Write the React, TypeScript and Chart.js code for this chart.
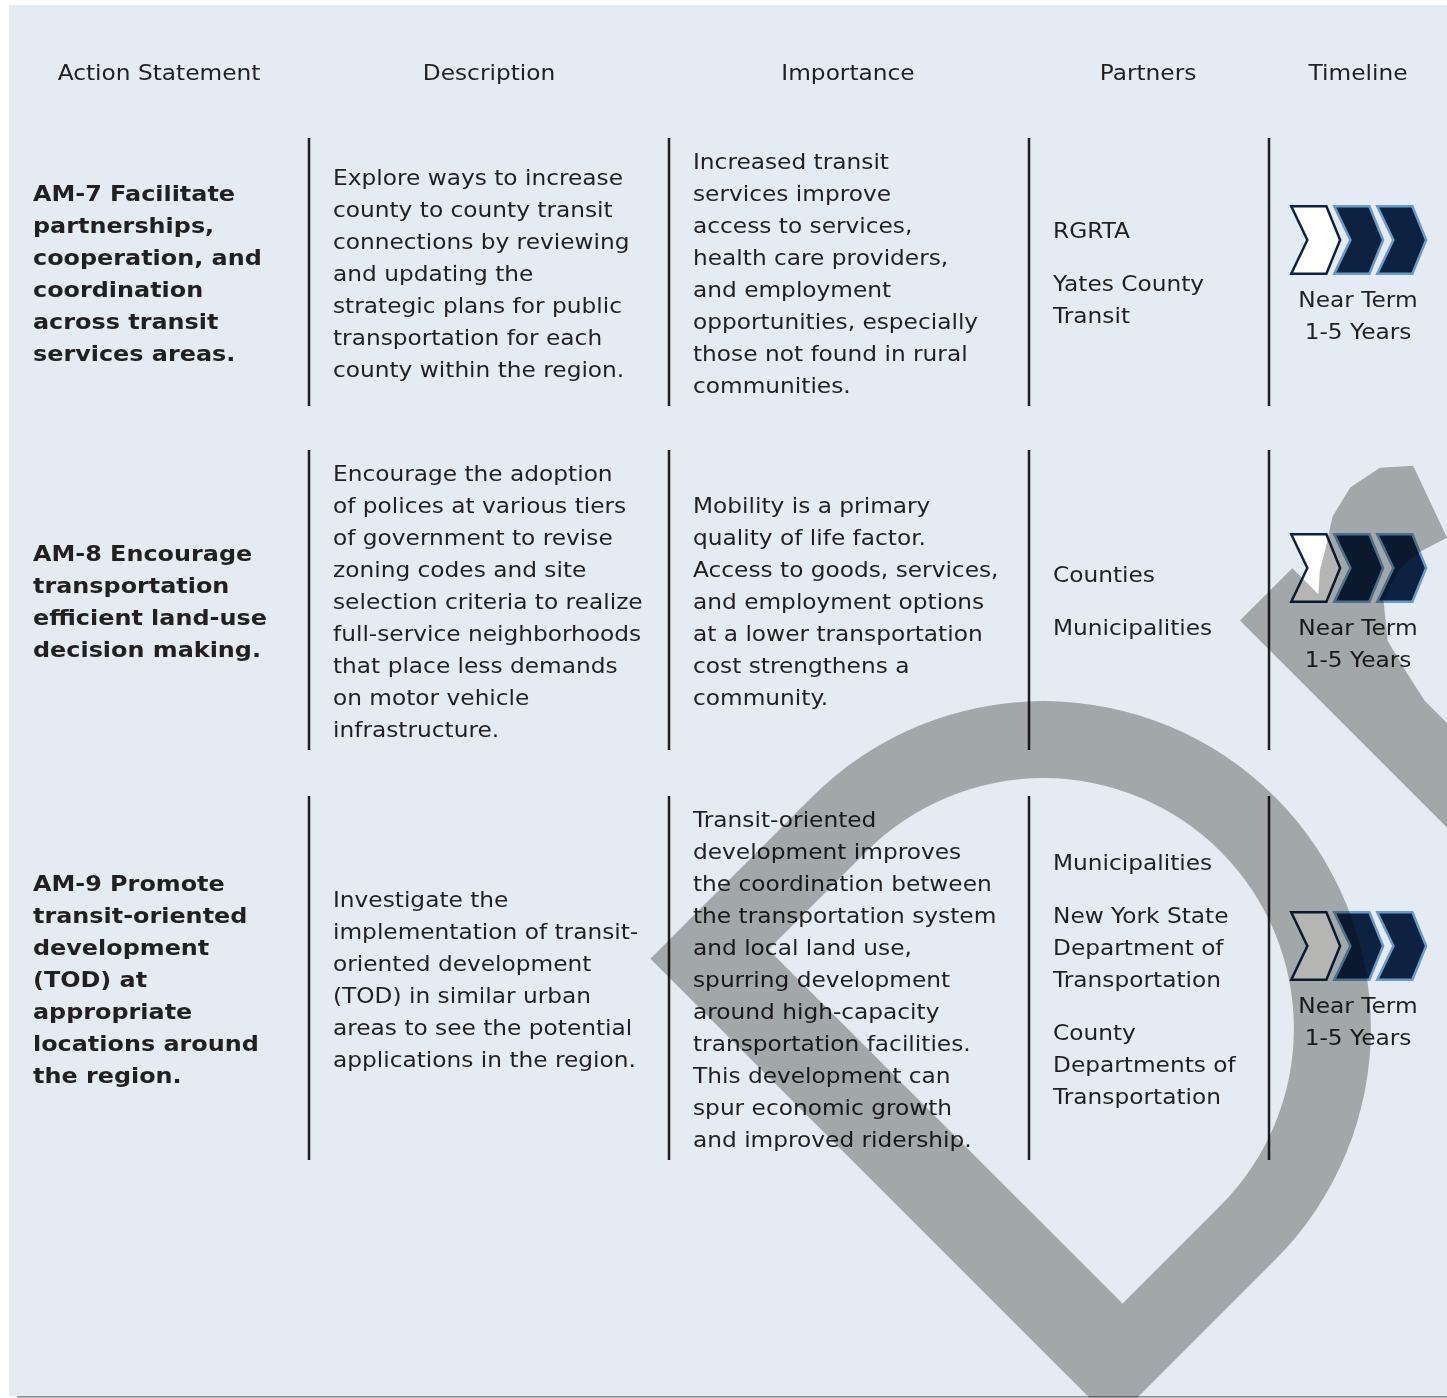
import React, { useEffect, useRef } from "react";
import { Chart, registerables } from "chart.js";

Chart.register(...registerables);

// ---------------- DATA ----------------
const headers = ["Action Statement", "Description", "Importance", "Partners", "Timeline"];

const actionStatements: string[][] = [
  ["AM-7 Facilitate", "partnerships,", "cooperation, and", "coordination", "across transit", "services areas."],
  ["AM-8 Encourage", "transportation", "efficient land-use", "decision making."],
  ["AM-9 Promote", "transit-oriented", "development", "(TOD) at", "appropriate", "locations around", "the region."],
];

const descriptions: string[][] = [
  [
    "Explore ways to increase",
    "county to county transit",
    "connections by reviewing",
    "and updating the",
    "strategic plans for public",
    "transportation for each",
    "county within the region.",
  ],
  [
    "Encourage the adoption",
    "of polices at various tiers",
    "of government to revise",
    "zoning codes and site",
    "selection criteria to realize",
    "full-service neighborhoods",
    "that place less demands",
    "on motor vehicle",
    "infrastructure.",
  ],
  [
    "Investigate the",
    "implementation of transit-",
    "oriented development",
    "(TOD) in similar urban",
    "areas to see the potential",
    "applications in the region.",
  ],
];

const importance: string[][] = [
  [
    "Increased transit",
    "services improve",
    "access to services,",
    "health care providers,",
    "and employment",
    "opportunities, especially",
    "those not found in rural",
    "communities.",
  ],
  [
    "Mobility is a primary",
    "quality of life factor.",
    "Access to goods, services,",
    "and employment options",
    "at a lower transportation",
    "cost strengthens a",
    "community.",
  ],
  [
    "Transit-oriented",
    "development improves",
    "the coordination between",
    "the transportation system",
    "and local land use,",
    "spurring development",
    "around high-capacity",
    "transportation facilities.",
    "This development can",
    "spur economic growth",
    "and improved ridership.",
  ],
];

const partners: string[][][] = [
  [["RGRTA"], ["Yates County", "Transit"]],
  [["Counties"], ["Municipalities"]],
  [["Municipalities"], ["New York State", "Department of", "Transportation"], ["County", "Departments of", "Transportation"]],
];

const timelineTerms = ["Near Term", "Near Term", "Near Term"];
const timelineYears = ["1-5 Years", "1-5 Years", "1-5 Years"];
const timelineStage = [1, 1, 1]; // highlighted (first) chevron of three

// ---------------- LAYOUT ----------------
const PAGE_W = 1447;
const PAGE_H = 1398;
const PANEL = { x0: 9, y0: 5, x1: 1447, y1: 1396 };
const HEADER_CX = [159, 489, 848, 1148, 1358];
const HEADER_BASE = 79.5;
const TEXT_X = [33, 333, 693, 1053];
const DIVIDER_X = [309, 669, 1029, 1269];
const ROW_SPANS = [
  [138, 406],
  [450, 750],
  [796, 1160],
];
const TIMELINE_CX = 1358;
const LINE_H = 32;
const GROUP_GAP = 21;
const BASE_OFF = 6.5;

const FONT_FAMILY = '"DejaVu Sans", "Liberation Sans", sans-serif';
const FONT_SIZE = 22;
const TEXT_COLOR = "#231f20";
const PANEL_COLOR = "#e4ebf3";
const NAVY = "#0d2240";
const LIGHT_BLUE = "#6a9bc8";

// Watermark ("Dr" of a rotated DRAFT) in letter coordinates (U right, H up)
const WM_ORIGIN = { x: 1267.5, y: 1267.5 };
const WM_D = { spine: -218, innerSpine: -128, cu: 10.6, ch: 327.4, outerR: 327.4, innerR: 250.4 };
const WM_R: [number, number][] = [
  [438, -60], [438, 477], [512, 477], [512, 440], [530, 456], [549, 467], [577, 485],
  [610, 493], [645, 486], [670, 464], [643, 389], [615, 398], [589, 401], [554, 390],
  [528, 358], [519, 322], [512, 290], [512, -60],
];

const tablePlugin = {
  id: "tablePlugin",
  beforeDraw(chart: any) {
    const ctx: CanvasRenderingContext2D = chart.ctx;
    const X = (v: number) => chart.scales.x.getPixelForValue(v);
    const Y = (v: number) => chart.scales.y.getPixelForValue(v);
    ctx.save();
    ctx.fillStyle = "#ffffff";
    ctx.fillRect(X(0), Y(0), X(PAGE_W) - X(0), Y(PAGE_H) - Y(0));
    ctx.fillStyle = PANEL_COLOR;
    ctx.fillRect(X(PANEL.x0), Y(PANEL.y0), X(PANEL.x1) - X(PANEL.x0), Y(PANEL.y1) - Y(PANEL.y0));
    ctx.fillStyle = "#8a8e92";
    ctx.fillRect(X(PANEL.x0 + 8), Y(PANEL.y1), X(PANEL.x1) - X(PANEL.x0 + 8), 1.6);
    ctx.restore();
  },
  afterDraw(chart: any) {
    const ctx: CanvasRenderingContext2D = chart.ctx;
    const X = (v: number) => chart.scales.x.getPixelForValue(v);
    const Y = (v: number) => chart.scales.y.getPixelForValue(v);

    const regFont = `${FONT_SIZE}px ${FONT_FAMILY}`;
    const boldFont = `bold ${FONT_SIZE}px ${FONT_FAMILY}`;
    ctx.save();
    ctx.font = regFont;
    const sxReg = 290 / ctx.measureText("Explore ways to increase").width;
    ctx.font = boldFont;
    const sxBold = 202 / ctx.measureText("AM-7 Facilitate").width;
    ctx.restore();

    const text = (s: string, x: number, y: number, bold: boolean, align: CanvasTextAlign) => {
      ctx.save();
      ctx.font = bold ? boldFont : regFont;
      ctx.fillStyle = TEXT_COLOR;
      ctx.textAlign = align;
      ctx.textBaseline = "alphabetic";
      ctx.translate(X(x), Y(y));
      ctx.scale(bold ? sxBold : sxReg, 1);
      ctx.fillText(s, 0, 0);
      ctx.restore();
    };

    // headers
    headers.forEach((h, i) => text(h, HEADER_CX[i], HEADER_BASE, false, "center"));

    ROW_SPANS.forEach(([top, bottom], r) => {
      const mid = (top + bottom) / 2 + 2;
      // dividers
      ctx.save();
      ctx.strokeStyle = TEXT_COLOR;
      ctx.lineWidth = 2.5;
      DIVIDER_X.forEach((dx) => {
        ctx.beginPath();
        ctx.moveTo(X(dx), Y(top));
        ctx.lineTo(X(dx), Y(bottom));
        ctx.stroke();
      });
      ctx.restore();

      const block = (lines: string[], x: number, bold: boolean) => {
        const first = mid - ((lines.length - 1) * LINE_H) / 2 + BASE_OFF;
        lines.forEach((l, k) => text(l, x, first + k * LINE_H, bold, "left"));
      };
      block(actionStatements[r], TEXT_X[0], true);
      block(descriptions[r], TEXT_X[1], false);
      block(importance[r], TEXT_X[2], false);

      // partners (grouped)
      const groups = partners[r];
      const nLines = groups.reduce((a, g) => a + g.length, 0);
      const span = (nLines - 1) * LINE_H + (groups.length - 1) * GROUP_GAP;
      let yb = mid - span / 2 + BASE_OFF;
      groups.forEach((g) => {
        g.forEach((l) => {
          text(l, TEXT_X[3], yb, false, "left");
          yb += LINE_H;
        });
        yb += GROUP_GAP;
      });

      // timeline chevrons
      const cTop = mid - 69;
      const offs = [-68, -25, 18];
      offs.forEach((o, i) => {
        const x0 = TIMELINE_CX + o;
        const inset = 1.25;
        const pts: [number, number][] = [
          [x0 + inset, cTop + inset],
          [x0 + 37 - inset * 0.5, cTop + inset],
          [x0 + 52 - inset * 1.5, cTop + 35],
          [x0 + 37 - inset * 0.5, cTop + 70 - inset],
          [x0 + inset, cTop + 70 - inset],
          [x0 + 18 - inset * 0.5, cTop + 35],
        ];
        ctx.save();
        ctx.beginPath();
        pts.forEach(([px, py], j) => (j === 0 ? ctx.moveTo(X(px), Y(py)) : ctx.lineTo(X(px), Y(py))));
        ctx.closePath();
        const highlighted = i < timelineStage[r];
        ctx.fillStyle = highlighted ? "#ffffff" : NAVY;
        ctx.fill();
        ctx.lineJoin = "miter";
        ctx.lineWidth = 2.5;
        ctx.strokeStyle = highlighted ? NAVY : LIGHT_BLUE;
        ctx.stroke();
        ctx.restore();
      });
      text(timelineTerms[r], TIMELINE_CX, mid + 33, false, "center");
      text(timelineYears[r], TIMELINE_CX, mid + 65, false, "center");
    });

    // watermark (multiply)
    ctx.save();
    ctx.beginPath();
    ctx.rect(X(PANEL.x0), Y(PANEL.y0), X(PANEL.x1) - X(PANEL.x0), Y(PANEL.y1 + 1.6) - Y(PANEL.y0));
    ctx.clip();
    ctx.globalCompositeOperation = "multiply";
    ctx.fillStyle = "rgb(181,182,179)";
    const k = Math.SQRT1_2;
    ctx.translate(X(WM_ORIGIN.x), Y(WM_ORIGIN.y));
    ctx.transform(k, -k, -k, -k, 0, 0);
    const D = WM_D;
    ctx.beginPath();
    // outer D
    ctx.moveTo(D.spine, D.ch - D.outerR);
    ctx.lineTo(D.spine, D.ch + D.outerR);
    ctx.lineTo(D.cu, D.ch + D.outerR);
    ctx.arc(D.cu, D.ch, D.outerR, Math.PI / 2, -Math.PI / 2, true);
    ctx.closePath();
    // inner hole
    ctx.moveTo(D.innerSpine, D.ch - D.innerR);
    ctx.lineTo(D.innerSpine, D.ch + D.innerR);
    ctx.lineTo(D.cu, D.ch + D.innerR);
    ctx.arc(D.cu, D.ch, D.innerR, Math.PI / 2, -Math.PI / 2, true);
    ctx.closePath();
    ctx.fill("evenodd");
    // r
    ctx.beginPath();
    WM_R.forEach(([u, h], j) => (j === 0 ? ctx.moveTo(u, h) : ctx.lineTo(u, h)));
    ctx.closePath();
    ctx.fill();
    ctx.restore();
  },
};

export default function App() {
  const ref = useRef<HTMLCanvasElement | null>(null);
  useEffect(() => {
    if (!ref.current) return;
    const chart = new Chart(ref.current, {
      type: "scatter",
      data: { datasets: [] },
      options: {
        animation: false,
        responsive: false,
        maintainAspectRatio: false,
        layout: { padding: 0 },
        events: [],
        plugins: { legend: { display: false }, tooltip: { enabled: false } },
        scales: {
          x: { type: "linear", min: 0, max: PAGE_W, display: false },
          y: { type: "linear", min: 0, max: PAGE_H, reverse: true, display: false },
        },
      },
      plugins: [tablePlugin],
    } as any);
    return () => chart.destroy();
  }, []);
  return (
    <div style={{ position: "absolute", left: 0, top: 0, width: PAGE_W, height: PAGE_H }}>
      <canvas ref={ref} width={PAGE_W} height={PAGE_H} style={{ display: "block" }} />
    </div>
  );
}
